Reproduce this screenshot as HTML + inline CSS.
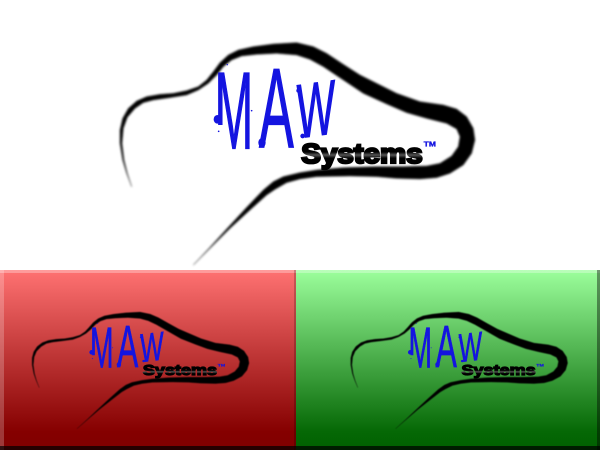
<!DOCTYPE html>
<html><head><meta charset="utf-8"><style>html,body{margin:0;padding:0;background:#fff}svg{display:block}</style></head>
<body>
<svg width="600" height="450" viewBox="0 0 600 450" xmlns="http://www.w3.org/2000/svg">
<defs>
<linearGradient id="r" x1="0" y1="0" x2="0" y2="1"><stop offset="0" stop-color="#ff7272"/><stop offset=".9" stop-color="#850000"/><stop offset="1" stop-color="#800000"/></linearGradient>
<linearGradient id="g" x1="0" y1="0" x2="0" y2="1"><stop offset="0" stop-color="#9cff9c"/><stop offset=".9" stop-color="#056805"/><stop offset="1" stop-color="#006000"/></linearGradient>
<linearGradient id="sys" x1="0" y1="0" x2="0" y2="1"><stop offset="0" stop-color="#000"/><stop offset=".45" stop-color="#000"/><stop offset=".55" stop-color="#555"/><stop offset=".65" stop-color="#000"/><stop offset="1" stop-color="#000"/></linearGradient>
<filter id="b" x="-5%" y="-5%" width="110%" height="110%"><feGaussianBlur stdDeviation="3"/></filter>
<clipPath id="mc"><path d="M300 90H460V370H345V285H300Z"/></clipPath>
<g id="logo">
<path filter="url(#b)" fill="#000" stroke="#000" stroke-width="1" stroke-linejoin="round" d="M65 470L50 430L38 390L30 340L30 300L38 265L55 235L80 213L110 200L150 193L190 190L230 182L265 170L290 150L310 125L330 98L355 75L385 60L430 50L490 42L560 38L610 50L650 70L700 103L750 135L800 160L860 190L930 215L1000 225L1040 237L1070 260L1090 295L1095 330L1085 370L1060 405L1020 430L980 443L930 447L860 445L800 440L720 438L620 440L570 447L530 458L495 478L470 495L420 540L360 595L300 655L250 705L300 652L350 597L410 532L460 480L490 455L520 440L570 428L620 420L700 413L800 410L880 410L950 408L990 400L1025 378L1045 350L1050 320L1040 297L1010 280L950 265L890 248L830 222L760 190L700 150L640 110L600 88L560 75L500 70L440 73L395 78L365 90L340 110L320 135L295 160L265 180L230 195L180 203L130 210L100 218L75 235L52 262L40 295L36 340L42 390L52 430L65 470Z"/>
<g fill="#1414e0" stroke="#1414e0" stroke-width="4" font-family="'Liberation Sans',sans-serif">
<g clip-path="url(#mc)"><text transform="translate(314,355) scale(.42,1)" font-size="330">M</text></g>
<text transform="translate(447,352) scale(.46,1)" font-size="340">A</text>
<text transform="translate(560,325) skewY(-8) scale(.53,1)" font-size="230">W</text>
</g>
<g fill="#1414e0">
<ellipse cx="322" cy="268" rx="11" ry="13"/><ellipse cx="456" cy="338" rx="11" ry="14"/><circle cx="326" cy="304" r="2.5"/><circle cx="425" cy="242" r="2.5"/><circle cx="352" cy="104" r="2"/><circle cx="578" cy="318" r="7"/><circle cx="565" cy="182" r="6"/>
</g>
<text x="574" y="399" font-family="'Liberation Sans',sans-serif" font-weight="700" font-size="82" fill="url(#sys)" stroke="url(#sys)" stroke-width="7" textLength="364" lengthAdjust="spacingAndGlyphs">Systems</text>
<text x="941" y="350" font-family="'Liberation Sans',sans-serif" font-weight="700" font-size="21" fill="#1414e0" stroke="#1414e0" stroke-width="1" textLength="37" lengthAdjust="spacingAndGlyphs">TM</text>
</g>
</defs>
<rect width="600" height="450" fill="#fff"/>
<use href="#logo" transform="translate(110,30) scale(.3333)"/>
<rect x="0" y="270" width="296" height="180" fill="url(#r)"/>
<rect x="0" y="270" width="296" height="3" fill="#fff" opacity=".3"/>
<rect x="0" y="270" width="4" height="180" fill="#fff" opacity=".22"/>
<rect x="0" y="446" width="296" height="4" fill="#000" opacity=".7"/>
<rect x="294" y="270" width="2" height="180" fill="#000" opacity=".2"/>
<rect x="296" y="270" width="304" height="180" fill="url(#g)"/>
<rect x="296" y="270" width="304" height="3" fill="#fff" opacity=".3"/>
<rect x="296" y="446" width="304" height="4" fill="#000" opacity=".7"/>
<rect x="597" y="270" width="3" height="180" fill="#000" opacity=".4"/>
<use href="#logo" transform="translate(26,305.4) scale(.2037,.175)"/>
<use href="#logo" transform="translate(344.6,305.4) scale(.2037,.175)"/>
</svg>
</body></html>
